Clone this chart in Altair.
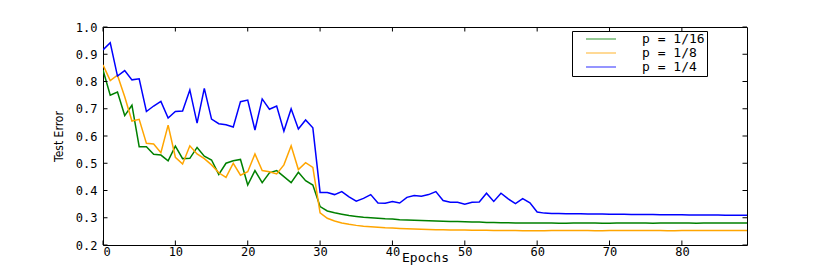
import altair as alt
import pandas as pd

epochs = list(range(90))
series_names = ["p = 1/16", "p = 1/8", "p = 1/4"]
series_colors = ["#008000", "#FFA500", "#0000FF"]

green = [0.842, 0.750, 0.761, 0.675, 0.713, 0.561, 0.561, 0.533, 0.530, 0.509,
         0.563, 0.517, 0.518, 0.558, 0.526, 0.512, 0.459, 0.500, 0.509, 0.514,
         0.420, 0.473, 0.429, 0.465, 0.473, 0.451, 0.429, 0.467, 0.436, 0.420,
         0.341, 0.325, 0.318, 0.313, 0.308, 0.305, 0.302, 0.300, 0.298, 0.296,
         0.295, 0.293, 0.292, 0.291, 0.290, 0.289, 0.288, 0.287, 0.286, 0.286,
         0.285, 0.284, 0.284, 0.283, 0.283, 0.282, 0.282, 0.281, 0.281, 0.281,
         0.281, 0.281, 0.281, 0.280, 0.280, 0.281, 0.281, 0.281, 0.281, 0.280,
         0.280, 0.281, 0.281, 0.281, 0.281, 0.281, 0.280, 0.281, 0.281, 0.281,
         0.281, 0.281, 0.280, 0.281, 0.281, 0.281, 0.281, 0.281, 0.281, 0.281]

orange = [0.861, 0.803, 0.823, 0.744, 0.655, 0.661, 0.573, 0.571, 0.539, 0.640,
          0.522, 0.497, 0.564, 0.534, 0.517, 0.494, 0.465, 0.448, 0.500, 0.456,
          0.469, 0.534, 0.473, 0.469, 0.461, 0.494, 0.564, 0.477, 0.502, 0.485,
          0.318, 0.298, 0.288, 0.281, 0.276, 0.272, 0.269, 0.267, 0.265, 0.263,
          0.262, 0.261, 0.260, 0.259, 0.258, 0.257, 0.256, 0.256, 0.255, 0.255,
          0.255, 0.254, 0.254, 0.254, 0.253, 0.253, 0.253, 0.253, 0.252, 0.252,
          0.252, 0.252, 0.253, 0.253, 0.253, 0.253, 0.253, 0.253, 0.252, 0.252,
          0.253, 0.253, 0.253, 0.253, 0.253, 0.253, 0.253, 0.253, 0.252, 0.252,
          0.253, 0.253, 0.253, 0.253, 0.253, 0.253, 0.253, 0.253, 0.253, 0.253]

blue = [0.916, 0.942, 0.820, 0.840, 0.806, 0.810, 0.690, 0.710, 0.727, 0.666,
        0.690, 0.692, 0.769, 0.647, 0.775, 0.662, 0.645, 0.641, 0.633, 0.726,
        0.732, 0.622, 0.736, 0.698, 0.710, 0.618, 0.700, 0.626, 0.659, 0.630,
        0.393, 0.393, 0.385, 0.396, 0.377, 0.361, 0.371, 0.385, 0.354, 0.353,
        0.360, 0.354, 0.375, 0.382, 0.379, 0.385, 0.396, 0.363, 0.357, 0.357,
        0.350, 0.357, 0.358, 0.390, 0.360, 0.390, 0.369, 0.352, 0.370, 0.355,
        0.321, 0.317, 0.316, 0.316, 0.315, 0.315, 0.315, 0.314, 0.314, 0.314,
        0.313, 0.313, 0.313, 0.312, 0.312, 0.312, 0.312, 0.311, 0.311, 0.311,
        0.311, 0.310, 0.310, 0.310, 0.310, 0.310, 0.309, 0.309, 0.309, 0.309]

x_ticks = [0, 10, 20, 30, 40, 50, 60, 70, 80]
y_ticks = [0.2, 0.3, 0.4, 0.5, 0.6, 0.7, 0.8, 0.9, 1.0]

rows = []
for name, vals in zip(series_names, [green, orange, blue]):
    for e, v in zip(epochs, vals):
        rows.append({"epoch": e, "error": v, "series": name})
df = pd.DataFrame(rows)

MONO = "DejaVu Sans Mono"
NARROW = "Liberation Sans Narrow, DejaVu Sans Condensed, sans-serif"
W, H = 644, 218
TL = 4.5

x_scale = alt.Scale(domain=[0, 89], nice=False, zero=False)
y_scale = alt.Scale(domain=[0.2, 1.0], nice=False, zero=False)

x_axis = alt.Axis(values=x_ticks, tickSize=0, domain=False, grid=False,
                  labelFont=MONO, labelFontSize=12, labelPadding=1,
                  labelOverlap=False, labelColor="black",
                  title="Epochs", titleFont=MONO,
                  titleFontSize=13, titleFontWeight="normal",
                  titleColor="black", titleY=16,
                  titleBaseline="alphabetic")
y_axis = alt.Axis(values=y_ticks, format=".1f", tickSize=0, domain=False,
                  grid=False, labelFont=MONO, labelFontSize=12,
                  labelPadding=6, labelOverlap=False,
                  labelColor="black", title="Test Error",
                  titleFont=NARROW, titleFontSize=12,
                  titleFontWeight="normal", titleColor="black",
                  titlePadding=10)

lines = alt.Chart(df).mark_line(strokeWidth=1.5, clip=True).encode(
    x=alt.X("epoch:Q", scale=x_scale, axis=x_axis),
    y=alt.Y("error:Q", scale=y_scale, axis=y_axis),
    color=alt.Color("series:N",
                    scale=alt.Scale(domain=series_names, range=series_colors),
                    sort=series_names,
                    legend=alt.Legend(title=None, orient="none", legendX=469,
                                      legendY=4, strokeColor="black",
                                      fillColor="white", padding=2,
                                      cornerRadius=0, symbolType="stroke",
                                      symbolSize=900, symbolStrokeWidth=1.5,
                                      symbolOpacity=0.55, clipHeight=12,
                                      rowPadding=1, symbolOffset=11,
                                      labelOffset=25, labelFont=MONO,
                                      labelFontSize=13, labelColor="black",
                                      labelExpr="datum.label + '\u00a0\u00a0\u00a0\u00a0\u00a0'")),
)

xt = pd.DataFrame({"epoch": x_ticks})
yt = pd.DataFrame({"error": y_ticks})

bottom_ticks = alt.Chart(xt).mark_rule(color="black", strokeWidth=1).encode(
    x=alt.X("epoch:Q", scale=x_scale, axis=x_axis), y=alt.value(H), y2=alt.value(H - TL))
top_ticks = alt.Chart(xt).mark_rule(color="black", strokeWidth=1).encode(
    x=alt.X("epoch:Q", scale=x_scale, axis=x_axis), y=alt.value(0), y2=alt.value(TL))
left_ticks = alt.Chart(yt).mark_rule(color="black", strokeWidth=1).encode(
    y=alt.Y("error:Q", scale=y_scale, axis=y_axis), x=alt.value(0), x2=alt.value(TL))
right_ticks = alt.Chart(yt).mark_rule(color="black", strokeWidth=1).encode(
    y=alt.Y("error:Q", scale=y_scale, axis=y_axis), x=alt.value(W), x2=alt.value(W - TL))

chart = alt.layer(lines, bottom_ticks, top_ticks, left_ticks, right_ticks).properties(
    width=W, height=H,
    padding={"left": 95, "top": 19, "right": 75, "bottom": 20},
    autosize=alt.AutoSizeParams(type="none"),
    background="white",
).configure_view(stroke="black", strokeWidth=1)

chart.save("out.html", embed_options={"renderer": "svg", "actions": False})
